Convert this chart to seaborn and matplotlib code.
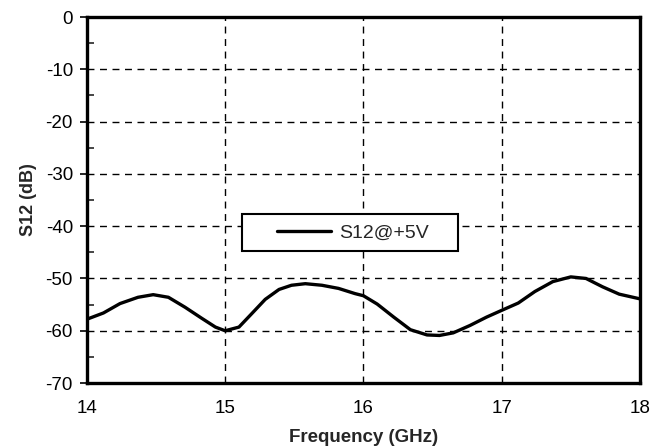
import numpy as np
import pandas as pd
import matplotlib
matplotlib.use("Agg")
import matplotlib.pyplot as plt
from matplotlib.ticker import MultipleLocator
from matplotlib.legend_handler import HandlerLine2D
import seaborn as sns

# Значения
freq_ghz = [14.0, 14.12, 14.24, 14.37, 14.48, 14.59, 14.71, 14.83, 14.93, 15.0,
            15.1, 15.19, 15.29, 15.39, 15.48, 15.58, 15.7, 15.82, 15.94, 16.0,
            16.1, 16.22, 16.34, 16.46, 16.55, 16.65, 16.77, 16.89, 17.0,
            17.12, 17.24, 17.37, 17.5, 17.61, 17.73, 17.85, 18.0]
s12_db = [-57.8, -56.6, -54.8, -53.6, -53.1, -53.6, -55.5, -57.6, -59.3, -60.0,
          -59.3, -56.8, -54.0, -52.1, -51.3, -51.0, -51.3, -51.9, -52.9, -53.3,
          -54.9, -57.4, -59.8, -60.8, -60.9, -60.4, -59.0, -57.4, -56.1,
          -54.7, -52.5, -50.6, -49.7, -50.0, -51.6, -53.0, -53.9]
series_label = "S12@+5V"

df = pd.DataFrame({"freq": freq_ghz, "s12": s12_db})

sns.set_style("ticks")
plt.rcParams["font.family"] = ["Liberation Sans", "DejaVu Sans"]
plt.rcParams["axes.unicode_minus"] = False

fig = plt.figure(figsize=(6.68, 4.48), dpi=100)
ax = fig.add_axes([0.130, 0.145, 0.828, 0.817])

sns.lineplot(data=df, x="freq", y="s12", ax=ax, color="black", linewidth=2.4,
             label=series_label)
ax.get_lines()[0].set_solid_joinstyle("round")
ax.get_lines()[0].set_solid_capstyle("round")

ax.set_xlim(14, 18)
ax.set_ylim(-70, 0)
ax.xaxis.set_major_locator(MultipleLocator(1))
ax.yaxis.set_major_locator(MultipleLocator(10))
ax.yaxis.set_minor_locator(MultipleLocator(5))
ax.grid(True, which="major", color="black", linestyle=(0, (5, 4)), linewidth=1.0)

for sp in ax.spines.values():
    sp.set_linewidth(2.4)
    sp.set_color("black")
    sp.set_visible(True)

ax.tick_params(axis="y", which="major", direction="out", length=5, width=1.2,
               labelsize=13.5, colors="black", pad=5)
ax.tick_params(axis="y", which="minor", direction="in", length=5, width=1.2)
ax.tick_params(axis="x", which="major", direction="in", length=0, labelsize=13.5,
               colors="black", pad=12)

ax.set_xlabel("Frequency (GHz)", fontsize=13.5, fontweight="bold", labelpad=9)
ax.set_ylabel("S12 (dB)", fontsize=13, fontweight="bold", labelpad=6)

# рамка легенды растянута по ширине, как на исходнике
fs = 14
leg = ax.legend(loc="center", bbox_to_anchor=(0.280, 0.411, 0.391, 0.0),
                mode="expand", borderaxespad=0, fontsize=fs,
                handlelength=4.1, handletextpad=0.4, borderpad=0.5,
                fancybox=False, framealpha=1, edgecolor="black",
                handler_map={plt.Line2D: HandlerLine2D(xpad=1.3)})
leg.get_frame().set_linewidth(1.5)
for line in leg.get_lines():
    line.set_linewidth(2.4)

fig.savefig("out.png", dpi=100)
